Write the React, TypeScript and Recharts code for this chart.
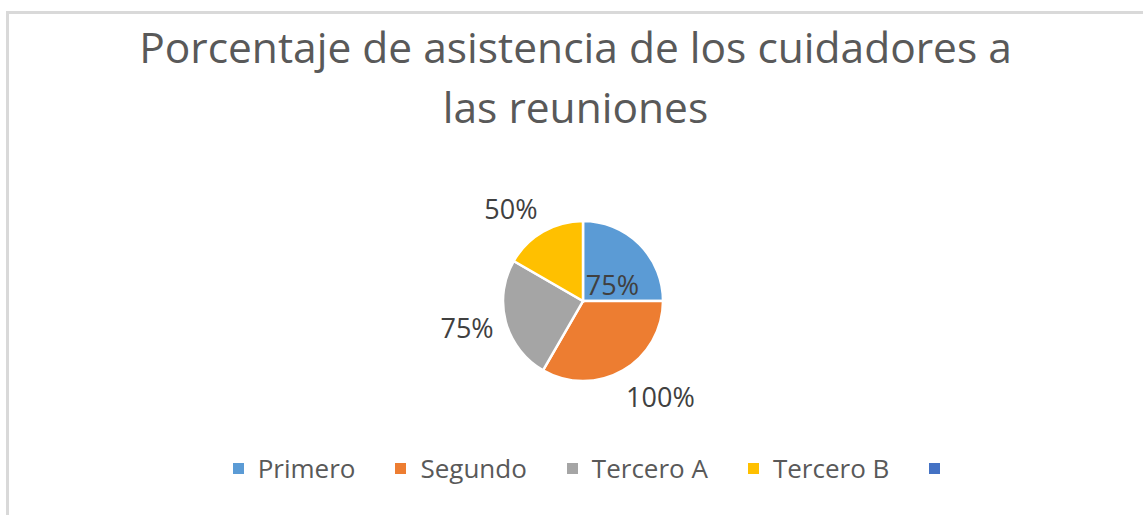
import React from "react";
import { PieChart, Pie, Cell, Legend } from "recharts";

// categories (the 5th is an empty legend entry, as in the source sheet)
const categories = ["Primero", "Segundo", "Tercero A", "Tercero B", ""];
const attendance = [75, 100, 75, 50];
const valueLabels = ["75%", "100%", "75%", "50%"];
const colors = ["#5B9BD5", "#ED7D31", "#A5A5A5", "#FFC000", "#4472C4"];

// label placement (best-fit style): distance from center and angle tweak
const labelRadius = [34, 123, 119, 117];
const labelAngleShift = [-15, 9, -2, 8];

const titleLines = ["Porcentaje de asistencia de los cuidadores a", "las reuniones"];

const FONT = "'Open Sans', sans-serif";
const RAD = Math.PI / 180;

const data = attendance.map((v, i) => ({ name: categories[i], value: v }));

function renderLabel(props: any) {
  const { cx, cy, midAngle, index } = props;
  const a = (midAngle + labelAngleShift[index]) * RAD;
  const r = labelRadius[index];
  const x = cx + r * Math.cos(a);
  const y = cy - r * Math.sin(a);
  return (
    <text
      x={x}
      y={y}
      textAnchor="middle"
      dominantBaseline="central"
      fill="#404040"
      fontSize={27}
      fontFamily={FONT}
    >
      {valueLabels[index]}
    </text>
  );
}

function renderLegend() {
  return (
    <div
      style={{
        display: "flex",
        justifyContent: "center",
        paddingLeft: 30,
        fontFamily: FONT,
        fontSize: 26,
        lineHeight: "30px",
        color: "#595959",
      }}
    >
      {categories.map((c, i) => (
        <div key={i} style={{ display: "flex", alignItems: "center", marginRight: i < categories.length - 1 ? 40 : 0 }}>
          <span style={{ display: "inline-block", width: 11, height: 11, background: colors[i], marginRight: c ? 14 : 0 }} />
          <span>{c}</span>
        </div>
      ))}
    </div>
  );
}

export default function App() {
  return (
    <div style={{ position: "fixed", left: 0, top: 0, width: 1143, height: 515, overflow: "hidden", background: "#fff" }}>
      <div
        style={{
          position: "absolute",
          left: 6,
          top: 11,
          width: 1200,
          height: 600,
          border: "3px solid #D9D9D9",
        }}
      />
      {titleLines.map((t, i) => (
        <div
          key={i}
          style={{
            position: "absolute",
            left: 4,
            top: 17 + i * 60,
            width: 1143,
            textAlign: "center",
            fontFamily: FONT,
            fontSize: 42.5,
            lineHeight: "60px",
            color: "#595959",
            whiteSpace: "nowrap",
          }}
        >
          {t}
        </div>
      ))}
      <div style={{ position: "absolute", left: 0, top: 0 }}>
        <PieChart width={1143} height={515} margin={{ top: 0, right: 0, bottom: 0, left: 0 }}>
          <Pie
            data={data}
            dataKey="value"
            nameKey="name"
            cx={583}
            cy={301}
            outerRadius={80}
            startAngle={90}
            endAngle={-270}
            stroke="#FFFFFF"
            strokeWidth={2.5}
            label={renderLabel}
            labelLine={false}
            isAnimationActive={false}
          >
            {data.map((d, i) => (
              <Cell key={d.name} fill={colors[i]} />
            ))}
          </Pie>
          <Legend content={renderLegend} wrapperStyle={{ top: 453, left: 0, width: 1143 }} />
        </PieChart>
      </div>
    </div>
  );
}
